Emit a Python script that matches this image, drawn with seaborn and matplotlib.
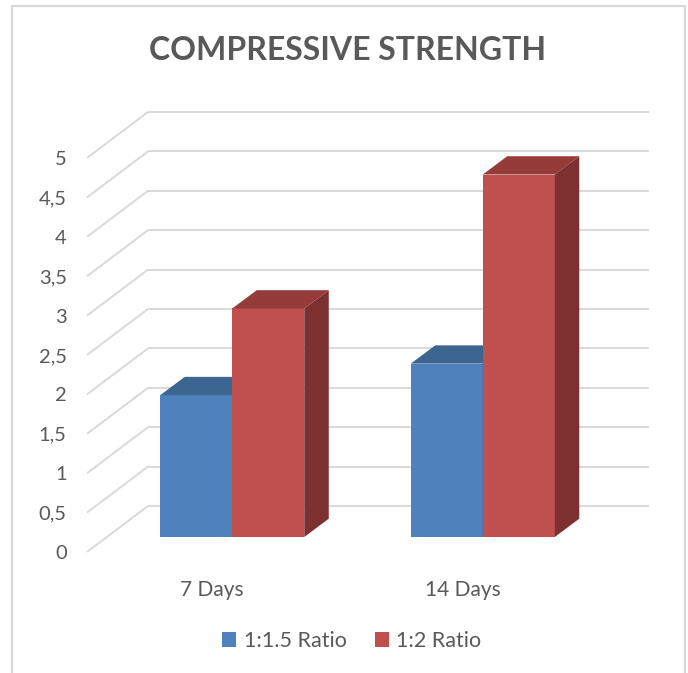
import matplotlib
matplotlib.use("Agg")
import matplotlib.pyplot as plt
import matplotlib.transforms as mtransforms
from matplotlib.patches import Polygon, Patch
from matplotlib.lines import Line2D
import pandas as pd
import seaborn as sns

# data
periods = ["7 Days", "14 Days"]
mixes = ["1:1.5 Ratio", "1:2 Ratio"]
strength_15 = [1.8, 2.2]
strength_2 = [2.9, 4.6]
ytick_values = [0, 0.5, 1, 1.5, 2, 2.5, 3, 3.5, 4, 4.5, 5]
ytick_labels = ["0", "0,5", "1", "1,5", "2", "2,5", "3", "3,5", "4", "4,5", "5"]

df = pd.DataFrame({
    "Period": periods * 2,
    "Mix": [mixes[0]] * 2 + [mixes[1]] * 2,
    "Strength": strength_15 + strength_2,
})

front_cols = ["#4F81BD", "#C0504D"]
top_cols = ["#3C6590", "#953B39"]
side_cols = ["#375A82", "#7D3030"]
grid_col = "#D9D9D9"
text_col = "#595959"

sns.set_style("white")
plt.rcParams["font.family"] = ["Lato", "DejaVu Sans"]

W, H = 688, 673
fig = plt.figure(figsize=(W / 100, H / 100), dpi=100)
ax = fig.add_axes([107 / W, (H - 537) / H, 501 / W, 394 / H])

sns.barplot(data=df, x="Period", y="Strength", hue="Mix", palette=front_cols,
            width=0.575, saturation=1, legend=False, ax=ax, zorder=2)
ax.set_xlim(-0.5, 1.5)
ax.set_ylim(0, 5)
ax.set_xlabel("")
ax.set_ylabel("")
sns.despine(ax=ax, left=True, bottom=True)

# oblique depth offsets in pixels (back wall, front edge, bar depth)
back_off = (41, 31)
front_off = (-20, -15)
bar_off = (24.5, 18.3)


def shift(x, y, off):
    X, Y = ax.transData.transform((x, y))
    return ax.transData.inverted().transform((X + off[0], Y + off[1]))


# gridlines: back wall + diagonal floor/side lines
for v in ytick_values:
    b0 = shift(-0.5, v, back_off)
    b1 = shift(1.5, v, back_off)
    f0 = shift(-0.5, v, front_off)
    ax.plot([b0[0], b1[0]], [b0[1], b1[1]], color=grid_col, lw=1.4,
            zorder=0, clip_on=False, solid_capstyle="butt")
    ax.plot([f0[0], b0[0]], [f0[1], b0[1]], color=grid_col, lw=1.4,
            zorder=0, clip_on=False, solid_capstyle="butt")

# 3D faces for the bars drawn by seaborn
bars = sorted(ax.patches, key=lambda p: p.get_x())
for i, p in enumerate(bars):
    k = 0 if p.get_facecolor()[2] > 0.5 else 1
    x0, w, h = p.get_x(), p.get_width(), p.get_height()
    z = 2 + i
    p.set_zorder(z)
    p.set_edgecolor("none")
    top = [(x0, h), (x0 + w, h), shift(x0 + w, h, bar_off), shift(x0, h, bar_off)]
    side = [(x0 + w, 0), (x0 + w, h), shift(x0 + w, h, bar_off), shift(x0 + w, 0, bar_off)]
    ax.add_patch(Polygon(top, closed=True, facecolor=top_cols[k], edgecolor="none",
                         zorder=z + 0.1, clip_on=False))
    ax.add_patch(Polygon(side, closed=True, facecolor=side_cols[k], edgecolor="none",
                         zorder=z + 0.2, clip_on=False))

# ticks sit on the front edge plane
ax.set_yticks(ytick_values)
ax.set_yticklabels(ytick_labels)
ax.tick_params(axis="y", length=0, pad=29, labelsize=14.5, labelcolor=text_col)
ax.tick_params(axis="x", length=0, pad=31, labelsize=15, labelcolor=text_col)
for lab in ax.get_yticklabels():
    lab.set_transform(lab.get_transform() + mtransforms.ScaledTranslation(
        0, front_off[1] / 100, fig.dpi_scale_trans))
for lab in ax.get_xticklabels():
    lab.set_transform(lab.get_transform() + mtransforms.ScaledTranslation(
        front_off[0] / 100, 0, fig.dpi_scale_trans))

fig.text(348 / W, 1 - 50 / H, "COMPRESSIVE STRENGTH", ha="center", va="center",
         fontsize=23, fontweight="bold", color=text_col)

handles = [Patch(facecolor=c, edgecolor="none") for c in front_cols]
fig.legend(handles, mixes, loc="center", bbox_to_anchor=(352 / W, 1 - 641 / H),
           ncol=2, frameon=False, fontsize=15.5, labelcolor=text_col,
           handlelength=0.65, handleheight=0.65, handletextpad=0.35, columnspacing=1.3)

# chart area border
for xs, ys in [((12, 685), (H - 6, H - 6)), ((12, 12), (0, H - 6)), ((685, 685), (0, H - 6))]:
    fig.add_artist(Line2D([x / W for x in xs], [y / H for y in ys],
                          color=grid_col, lw=1.6, transform=fig.transFigure))

fig.savefig("out.png", dpi=100, facecolor="white")
